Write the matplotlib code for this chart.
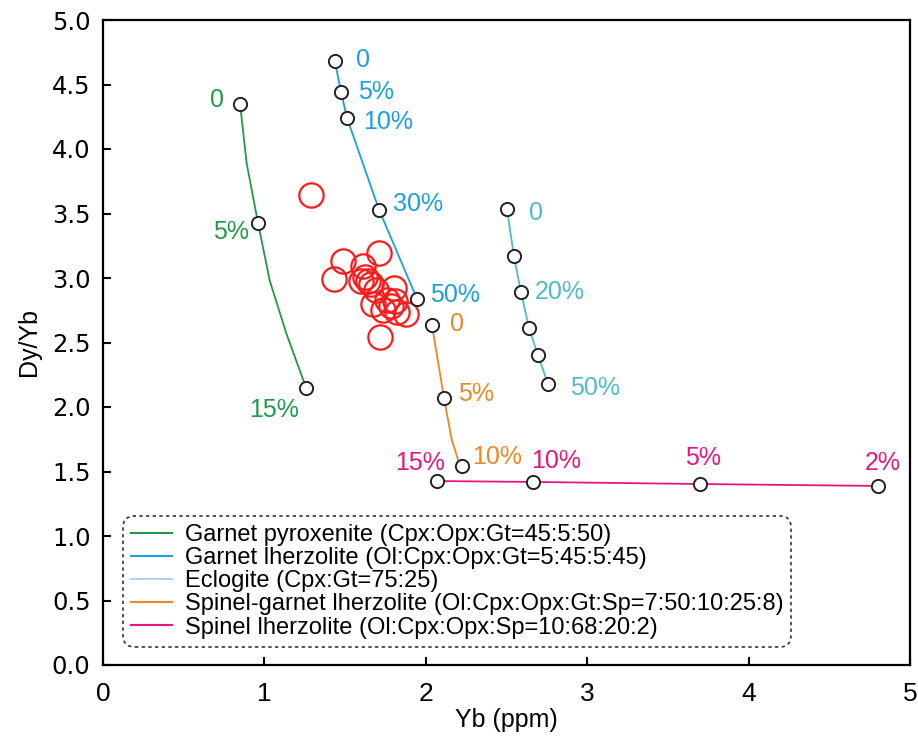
import matplotlib
matplotlib.use("Agg")
import matplotlib.pyplot as plt
from matplotlib.lines import Line2D

plt.rcParams['font.family'] = ['Liberation Sans', 'DejaVu Sans']

# ---- data ----
gp_yb = [0.849, 0.96, 1.258]
gp_dy = [4.35, 3.43, 2.15]
gp_lab = ["0", "5%", "15%"]
gp_curve_yb = [0.849, 0.89, 0.96, 1.033, 1.136, 1.258]
gp_curve_dy = [4.35, 3.89, 3.43, 2.98, 2.57, 2.15]

gl_yb = [1.437, 1.475, 1.512, 1.71, 1.945]
gl_dy = [4.68, 4.44, 4.24, 3.53, 2.84]
gl_lab = ["0", "5%", "10%", "30%", "50%"]

ec_yb = [2.503, 2.546, 2.59, 2.64, 2.695, 2.757]
ec_dy = [3.535, 3.17, 2.89, 2.61, 2.40, 2.18]
ec_lab = ["0", "", "20%", "", "", "50%"]

sg_yb = [2.038, 2.113, 2.224]
sg_dy = [2.636, 2.07, 1.54]
sg_lab = ["0", "5%", "10%"]
sg_curve_yb = [2.038, 2.113, 2.16, 2.20]
sg_curve_dy = [2.636, 2.07, 1.75, 1.59]

sl_yb = [2.069, 2.664, 3.699, 4.80]
sl_dy = [1.426, 1.419, 1.403, 1.388]
sl_lab = ["15%", "10%", "5%", "2%"]

samp_yb = [1.29, 1.71, 1.49, 1.43, 1.613, 1.623, 1.60, 1.64, 1.66, 1.69, 1.80,
           1.674, 1.757, 1.81, 1.736, 1.787, 1.88, 1.82, 1.716]
samp_dy = [3.64, 3.19, 3.13, 2.99, 3.09, 3.01, 2.98, 2.98, 2.95, 2.91, 2.92,
           2.80, 2.83, 2.82, 2.75, 2.78, 2.72, 2.74, 2.545]

legend_labels = ["Garnet pyroxenite (Cpx:Opx:Gt=45:5:50)",
                 "Garnet lherzolite (Ol:Cpx:Opx:Gt=5:45:5:45)",
                 "Eclogite (Cpx:Gt=75:25)",
                 "Spinel-garnet lherzolite (Ol:Cpx:Opx:Gt:Sp=7:50:10:25:8)",
                 "Spinel lherzolite (Ol:Cpx:Opx:Sp=10:68:20:2)"]

x_ticks = [0, 1, 2, 3, 4, 5]
y_ticks = [0, 0.5, 1, 1.5, 2, 2.5, 3, 3.5, 4, 4.5, 5]

C_GP = "#1f9a48"
C_GL = "#1a9fe3"
C_EC = "#4cbccc"
C_EC_LEG = "#a6d8f2"
C_SG = "#f08522"
C_SL = "#e5177e"

fig = plt.figure(figsize=(9.18, 7.37), dpi=100)
ax = fig.add_axes([103/918, 72/737, 807/918, 645/737])

px = 72/100.0

def series(xc, yc, xs, ys, labs, col, offs):
    ax.plot(xc, yc, color=col, lw=1.3, zorder=2)
    ax.plot(xs, ys, 'o', ms=9.5, mfc='white', mec='#222222', mew=1.4, zorder=4, ls='none')
    for x, y, t, (dx, dy) in zip(xs, ys, labs, offs):
        if t:
            ax.annotate(t, (x, y), xytext=(dx*px, dy*px), textcoords='offset points',
                        ha='center', va='center', color=col, fontsize=18)

series(gp_curve_yb, gp_curve_dy, gp_yb, gp_dy, gp_lab, C_GP,
       [(-23, 4), (-27, -9), (-32, -22)])
series(gl_yb, gl_dy, gl_yb, gl_dy, gl_lab, C_GL,
       [(28, 1), (35, 0), (41, -4), (39, 6), (38, 4)])
series(ec_yb, ec_dy, ec_yb, ec_dy, ec_lab, C_EC,
       [(29, -4), (0, 0), (39, 0), (0, 0), (0, 0), (47, -4)])
series(sg_curve_yb, sg_curve_dy, sg_yb, sg_dy, sg_lab, C_SG,
       [(25, 1), (32, 4), (35, 9)])
series(sl_yb, sl_dy, sl_yb, sl_dy, sl_lab, C_SL,
       [(-17, 18), (23, 21), (3, 26), (5, 23)])

ax.plot(samp_yb, samp_dy, 'o', ms=17.5, mfc='none', mec='#ff1a1a', mew=1.6, ls='none', zorder=3)

ax.set_xlim(0, 5)
ax.set_ylim(0, 5)
ax.set_xticks(x_ticks)
ax.set_xticklabels([str(v) for v in x_ticks])
ax.set_yticks(y_ticks)
ax.set_yticklabels([f"{v:.1f}" for v in y_ticks])
ax.tick_params(direction='in', length=6, width=1.5)
ax.tick_params(axis='x', pad=12)
ax.tick_params(axis='y', pad=9)
for lab in ax.get_xticklabels():
    lab.set_fontsize(19)
for lab in ax.get_yticklabels():
    lab.set_family('DejaVu Sans')
    lab.set_fontsize(17.5)
for s in ax.spines.values():
    s.set_linewidth(1.6)

ax.set_xlabel("Yb (ppm)", fontsize=18, labelpad=2)
ax.set_ylabel("Dy/Yb", fontsize=18, labelpad=8)

handles = [Line2D([], [], color=c, lw=1.5) for c in [C_GP, C_GL, C_EC_LEG, C_SG, C_SL]]
leg = ax.legend(handles, legend_labels, loc='lower left', bbox_to_anchor=(0.025, 0.028),
                borderaxespad=0, fancybox=True, framealpha=1, edgecolor='#333333',
                prop={'size': 17}, handlelength=1.7, handletextpad=0.55,
                labelspacing=0.05, borderpad=0.35)
frame = leg.get_frame()
frame.set_linestyle((0, (2, 2)))
frame.set_linewidth(1.2)
frame.set_boxstyle('round,pad=0,rounding_size=0.5')

fig.savefig("out.png", dpi=100)
